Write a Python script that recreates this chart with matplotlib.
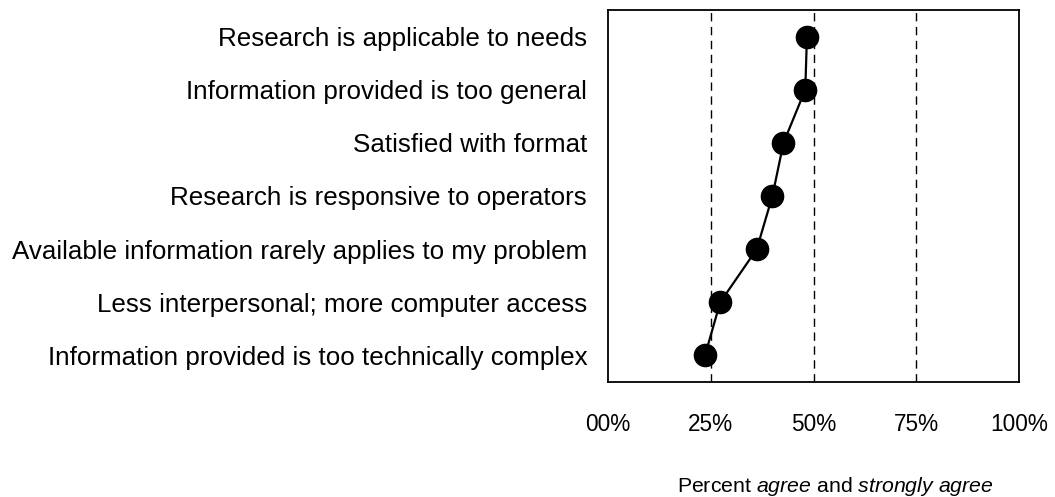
import matplotlib
matplotlib.use('Agg')
import matplotlib.pyplot as plt
import numpy as np

plt.rcParams['font.family'] = ['Liberation Sans', 'DejaVu Sans']
plt.rcParams['mathtext.fontset'] = 'custom'
plt.rcParams['mathtext.rm'] = 'Liberation Sans'
plt.rcParams['mathtext.it'] = 'Liberation Sans:italic'

# rows, top to bottom
statements = [
    'Research is applicable to needs',
    'Information provided is too general',
    'Satisfied with format',
    'Research is responsive to operators',
    'Available information rarely applies to my problem',
    'Less interpersonal; more computer access',
    'Information provided is too technically complex',
]
pct_agree = [48.4, 48.0, 42.7, 40.0, 36.2, 27.3, 23.6]

x_ticks = [0, 25, 50, 75, 100]
x_tick_labels = ['00%', '25%', '50%', '75%', '100%']
grid_lines = [25, 50, 75]

fig = plt.figure(figsize=(10.55, 4.97), dpi=100)
ax = fig.add_axes([608 / 1055, 115 / 497, 411 / 1055, 372 / 497])

ypos = np.arange(len(statements))

for g in grid_lines:
    ax.axvline(g, color='black', lw=1.0, ls=(0, (6, 4)), zorder=1)

ax.plot(pct_agree, ypos, color='black', lw=1.6, marker='o', markersize=16,
        markerfacecolor='black', markeredgecolor='black', zorder=3)

ax.set_xlim(0, 100)
ax.set_ylim(len(statements) - 0.5, -0.5)
ax.set_xticks(x_ticks)
ax.set_xticklabels(x_tick_labels, fontsize=16.3)
ax.set_yticks(ypos)
ax.set_yticklabels(statements, fontsize=18.7)
ax.tick_params(axis='x', length=0, pad=22)
ax.tick_params(axis='y', length=0, pad=15)

for s in ax.spines.values():
    s.set_linewidth(1.3)
    s.set_color('black')

ax.set_xlabel(r'Percent $\mathit{agree}$ and $\mathit{strongly\ agree}$', fontsize=15.3)
ax.xaxis.set_label_coords(0.552, -0.282)
ax.xaxis.label.set_va('center')

plt.savefig('out.png', dpi=100)
